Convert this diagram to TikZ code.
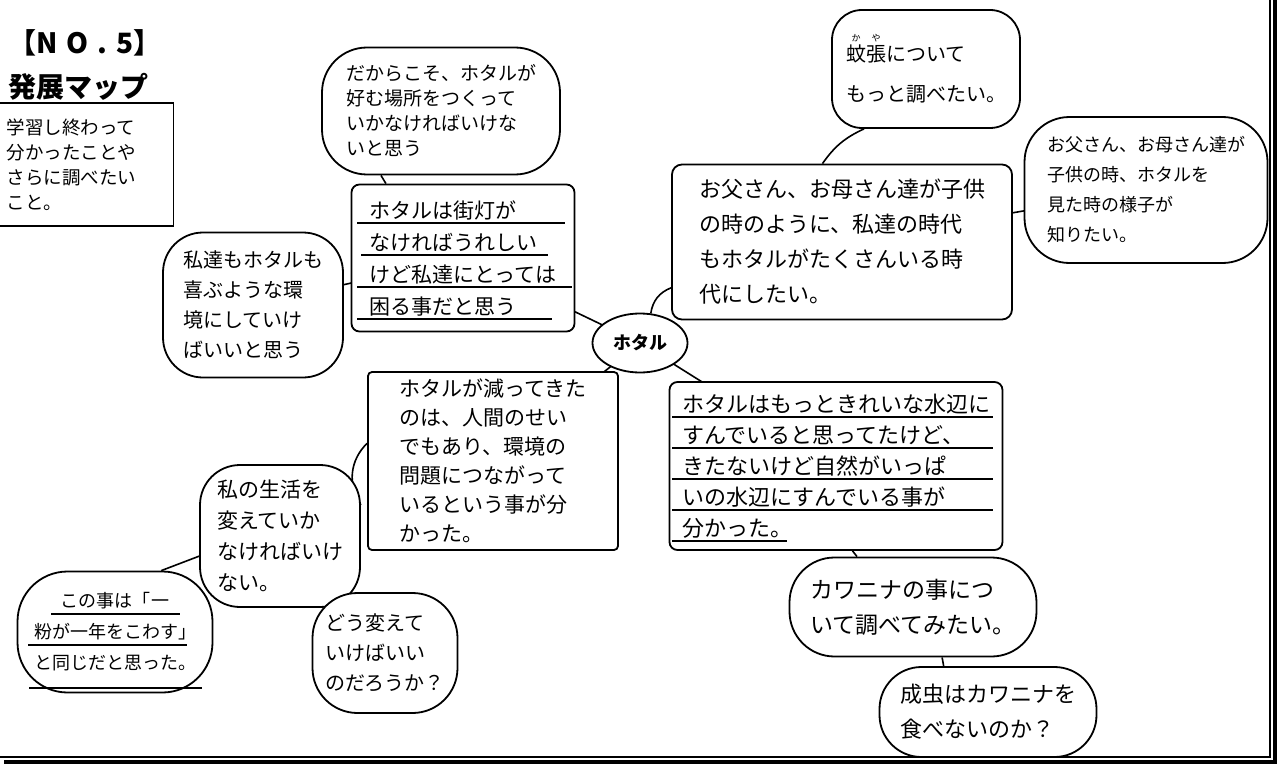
\documentclass[tikz,border=0pt]{standalone}
\usepackage{fontspec}
\newfontfamily\cjk{Noto Sans CJK JP}
\usetikzlibrary{shapes.geometric}
\pgfdeclarelayer{bg}
\pgfsetlayers{bg,main}
\newcommand\hw[2]{\fontsize{#1}{#2}\selectfont\cjk}
\newcommand\furi[2]{\leavevmode\rlap{\raisebox{1.0em}{\makebox[1em]{\fontsize{9}{9}\selectfont #2}}}#1}
\tikzset{
  bubble/.style={draw, line width=1.8pt, fill=white, rounded corners=#1, inner sep=0pt, align=left},
  bubble/.default=45pt,
  card/.style={draw, line width=1.8pt, fill=white, rounded corners=#1, inner sep=0pt, align=left},
  card/.default=8pt,
  link/.style={line width=1.6pt},
  uline/.style={line width=2pt}
}
\begin{document}
\begin{tikzpicture}[x=1pt,y=-1pt]
  \useasboundingbox (0,0) rectangle (1277,765);

  % Title
  \node[font={\hw{28}{28}\bfseries}, inner sep=0pt] (no5) at (85,43) {【N\hspace{9pt}O\hspace{9pt}.\hspace{9pt}5】};
  \node[font={\hw{28}{28}\bfseries}, inner sep=0pt] (hatten) at (79,87) {発展マップ};
  \node[draw, line width=1.5pt, text width=160pt, inner xsep=7pt, inner ysep=0pt,
        minimum height=123pt, align=left, font={\hw{18.5}{25}}] (memo) at (86.5,164.5)
        {学習し終わって\\分かったことや\\さらに調べたい\\こと。};

  % Centre
  \node[ellipse, draw, line width=1.8pt, fill=white, minimum width=95pt, minimum height=59pt,
        inner sep=0pt, font={\hw{18}{18}\bfseries}] (hotaru) at (640,343) {ホタル};

  % Upper left
  \node[bubble=45pt, minimum width=238pt, minimum height=127pt, font={\hw{19}{25}}] (dakara) at (441,111)
    {だからこそ、ホタルが\\好む場所をつくって\\いかなければいけな\\いと思う};
  \node[card, minimum width=223pt, minimum height=147pt, font={\hw{21}{32}}] (gaito) at (463,258)
    {ホタルは街灯が\\なければうれしい\\けど私達にとっては\\困る事だと思う};
  \node[bubble=40pt, minimum width=180pt, minimum height=145pt, font={\hw{20}{30}}] (watashi) at (253,305)
    {私達もホタルも\\喜ぶような環\\境にしていけ\\ばいいと思う};

  % Upper right
  \node[card=10pt, minimum width=340pt, minimum height=155pt, font={\hw{22}{35}}] (otousan) at (842,242)
    {お父さん、お母さん達が子供\\の時のように、私達の時代\\もホタルがたくさんいる時\\代にしたい。};
  \node[bubble=30pt, minimum width=188pt, minimum height=118pt, font={\hw{20}{40}}] (kaya) at (926,69)
    {\furi{蚊}{か}\furi{張}{や}について\\もっと調べたい。};
  \node[bubble=45pt, minimum width=243pt, minimum height=146pt, font={\hw{18}{30}}] (youshi) at (1146,190)
    {お父さん、お母さん達が\\子供の時、ホタルを\\見た時の様子が\\知りたい。};

  % Lower left
  \node[card=4pt, minimum width=250pt, minimum height=178pt, font={\hw{21}{29}}] (heru) at (493,461)
    {ホタルが減ってきた\\のは、人間のせい\\でもあり、環境の\\問題につながって\\いるという事が分\\かった。};
  \node[bubble=40pt, minimum width=160pt, minimum height=142pt, font={\hw{21}{31}}] (seikatsu) at (280,536)
    {私の生活を\\変えていか\\なければいけ\\ない。};
  \node[bubble=50pt, minimum width=195pt, minimum height=121pt, font={\hw{18}{31}}] (konokoto) at (115,632)
    {\hspace*{1.5em}この事は「一\\粉が一年をこわす」\\と同じだと思った。};
  \node[bubble=45pt, minimum width=145pt, minimum height=120pt, font={\hw{20}{30}}] (dou) at (385,653)
    {どう変えて\\いけばいい\\のだろうか？};

  % Lower right
  \node[card, minimum width=333pt, minimum height=168pt, font={\hw{22}{31}}] (kirei) at (836,466)
    {ホタルはもっときれいな水辺に\\すんでいると思ってたけど、\\きたないけど自然がいっぱ\\いの水辺にすんでいる事が\\分かった。};
  \node[bubble=45pt, minimum width=247pt, minimum height=99pt, font={\hw{23}{35}}] (kawanina) at (913,607)
    {カワニナの事につ\\いて調べてみたい。};
  \node[bubble=42pt, minimum width=217pt, minimum height=90pt, font={\hw{22}{35}}] (seichu) at (988,712)
    {成虫はカワニナを\\食べないのか？};

  % Links
  \begin{pgfonlayer}{bg}
    \draw[link] (hotaru.center) -- (gaito.center);
    \draw[link] (hotaru.70) to[bend left=30] (otousan.195);
    \draw[link] (hotaru.center) -- (heru.center);
    \draw[link] (hotaru.center) -- (kirei.center);
    \draw[link] (gaito.136) -- (dakara.227);
    \draw[link] (gaito.center) -- (watashi.center);
    \draw[link] (otousan.104) to[bend left=15] (kaya.224);
    \draw[link] (otousan.center) -- (youshi.center);
    \draw[link] (heru.172) to[bend right=40] (seikatsu.21);
    \draw[link] (seikatsu.194) -- (konokoto.53);
    \draw[link] (seikatsu.center) -- (dou.center);
    \draw[link] (kirei.-79) -- (kawanina.138);
    \draw[link] (kawanina.-60) -- (seichu.134);
  \end{pgfonlayer}

  % Underlines
  \foreach \y/\a/\b in {223/357/565, 255/361/548, 287/357/572, 319/357/552}
    \draw[uline] (\a,\y) -- (\b,\y);
  \foreach \y/\a/\b in {417/672/993, 448/672/993, 479/672/993, 510/672/993, 541/672/787}
    \draw[uline] (\a,\y) -- (\b,\y);
  \foreach \y/\a/\b in {614/51/180, 645/28/187, 688/29/202}
    \draw[uline] (\a,\y) -- (\b,\y);

  % Frame
  \draw[line width=1.2pt] (1270,-5) -- (1270,757) -- (-5,757);
  \draw[line width=4pt] (1274.5,0) -- (1274.5,761.5) -- (4,761.5);
\end{tikzpicture}
\end{document}
